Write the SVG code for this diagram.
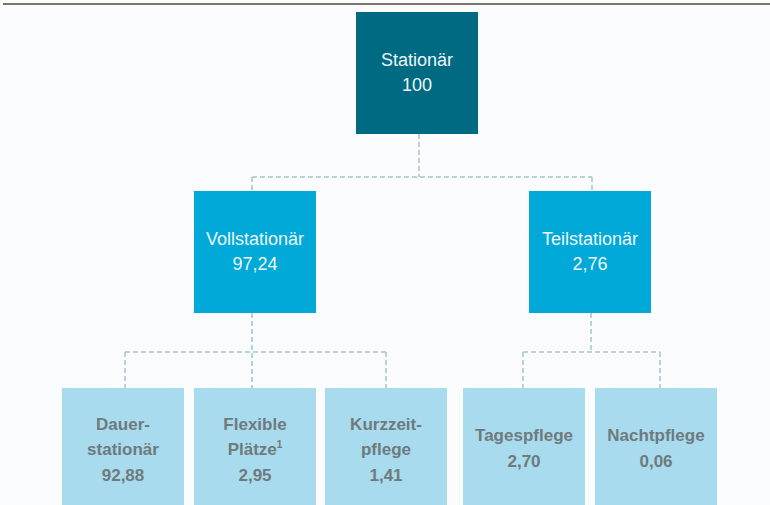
<svg xmlns="http://www.w3.org/2000/svg" width="770" height="505" viewBox="0 0 770 505">
<style>
.bg{fill:#fbfcfd}
.top{fill:#006a83}
.mid{fill:#00a9d7}
.low{fill:#a9dbee}
.tw{font-family:"Liberation Sans",Arial,sans-serif;font-size:18px;fill:#eef6f8;text-anchor:middle}
.tg{font-family:"Liberation Sans",Arial,sans-serif;font-size:17px;font-weight:bold;fill:#6e7a7c;text-anchor:middle}
.c{fill:none;stroke:#a8c3cf;stroke-width:1.5;stroke-dasharray:5 3}
</style>
<rect class="bg" x="0" y="0" width="770" height="505"/>
<line x1="3" y1="4" x2="770" y2="4" stroke="#7b766a" stroke-width="2"/>
<g id="connectors">
<path class="c" d="M419 134 V177 M252 177 H592 M252 177 V191 M592 177 V191"/>
<path class="c" d="M252 313 V388 M125 352 H386 M125 352 V388 M386 352 V388"/>
<path class="c" d="M591 313 V352 M523 352 H660 M523 352 V388 M660 352 V388"/>
</g>
<g id="stationaer">
<rect class="top" x="356" y="12" width="122" height="122"/>
<text class="tw" x="417" y="66">Stationär</text>
<text class="tw" x="417" y="91">100</text>
</g>
<g id="vollstationaer">
<rect class="mid" x="194" y="191" width="122" height="122"/>
<text class="tw" x="255" y="245">Vollstationär</text>
<text class="tw" x="255" y="270">97,24</text>
</g>
<g id="teilstationaer">
<rect class="mid" x="529" y="191" width="122" height="122"/>
<text class="tw" x="590" y="245">Teilstationär</text>
<text class="tw" x="590" y="270">2,76</text>
</g>
<g id="dauerstationaer">
<rect class="low" x="62" y="388" width="122" height="117"/>
<text class="tg" x="123" y="430">Dauer-</text>
<text class="tg" x="123" y="455">stationär</text>
<text class="tg" x="123" y="481">92,88</text>
</g>
<g id="flexible">
<rect class="low" x="194" y="388" width="122" height="117"/>
<text class="tg" x="255" y="430">Flexible</text>
<text class="tg" x="255" y="455">Plätze<tspan font-size="10" dy="-7">1</tspan></text>
<text class="tg" x="255" y="481">2,95</text>
</g>
<g id="kurzzeit">
<rect class="low" x="325" y="388" width="122" height="117"/>
<text class="tg" x="386" y="430">Kurzzeit-</text>
<text class="tg" x="386" y="455">pflege</text>
<text class="tg" x="386" y="481">1,41</text>
</g>
<g id="tagespflege">
<rect class="low" x="463" y="388" width="122" height="117"/>
<text class="tg" x="524" y="441">Tagespflege</text>
<text class="tg" x="524" y="467">2,70</text>
</g>
<g id="nachtpflege">
<rect class="low" x="595" y="388" width="122" height="117"/>
<text class="tg" x="656" y="441">Nachtpflege</text>
<text class="tg" x="656" y="467">0,06</text>
</g>
</svg>
